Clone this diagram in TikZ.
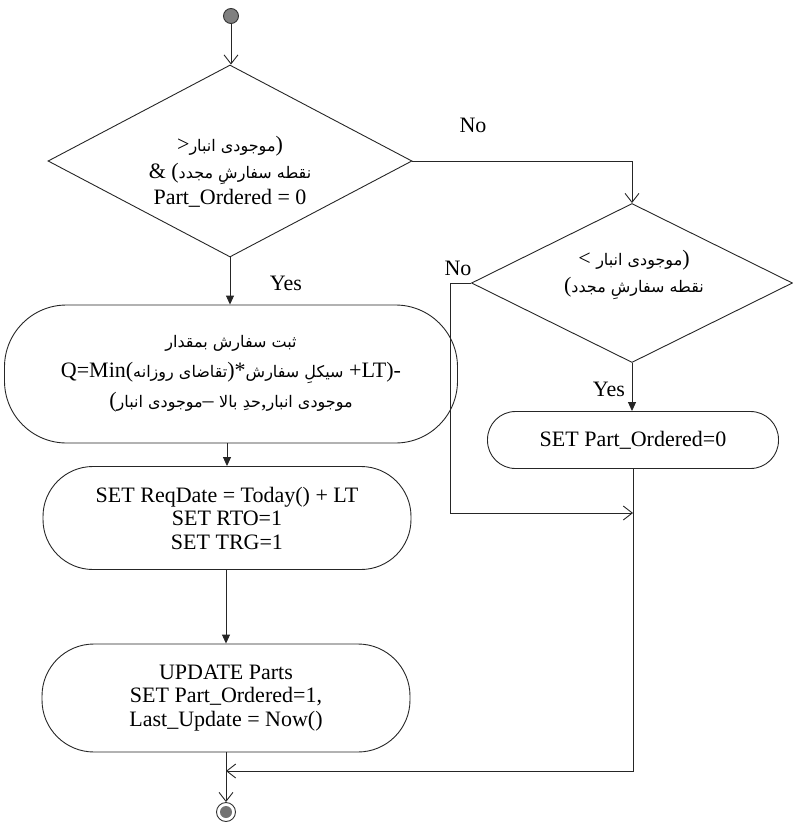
\documentclass[tikz,border=0pt]{standalone}
\usepackage{fontspec}
\setmainfont{Liberation Serif}
\newfontfamily\fa[Script=Arabic]{DejaVu Sans}
\TeXXeTstate=1
\usetikzlibrary{arrows.meta,shapes.geometric}
\newcommand\FA[1]{\mbox{\fa\fontsize{16}{19}\selectfont\beginR #1\endR}}
\newcommand\LT[1]{\mbox{#1}}
\tikzset{
  flow/.style={line width=0.9pt, draw=black!85},
  openarr/.style={-{Straight Barb[length=9pt,width=14pt,line width=0.9pt]}},
  fillarr/.style={-{Triangle[length=9pt,width=8pt]}},
  dec/.style={diamond, draw=black!85, line width=0.9pt, inner sep=0pt},
  act/.style={rectangle, draw=black!85, line width=0.9pt, inner sep=0pt, align=center,
    font=\fontsize{22}{23.5}\selectfont},
  txt/.style={inner sep=0pt, align=center, font=\fontsize{22}{26.5}\selectfont},
  lbl/.style={inner sep=0pt, font=\fontsize{22}{24}\selectfont},
  startc/.style={circle, draw=black!80, fill=black!50, line width=0.9pt, minimum size=15pt, inner sep=0pt},
  endo/.style={circle, draw=black!80, line width=0.9pt, minimum size=19pt, inner sep=0pt},
  endi/.style={circle, fill=black!55, minimum size=12pt, inner sep=0pt}
}
\begin{document}
\begin{tikzpicture}[x=1pt,y=-1pt]
\useasboundingbox (0,0) rectangle (793,828);
% start
\node[startc] (s) at (231,16) {};
% decision 1
\node[dec, minimum width=364pt, minimum height=192pt] (d1) at (230,161) {};
\node[txt] (t1) at (230,172) {\LT{>}\FA{موجودی انبار}\LT{)}\\ \LT{\&\ (}\FA{نقطه سفارشِ مجدد}\\ Part\_Ordered = 0};
% decision 2
\node[dec, minimum width=321pt, minimum height=159pt] (d2) at (632,283) {};
\node[txt] (t2) at (634,275) {\LT{<\ }\FA{موجودی انبار}\LT{)}\\ \LT{(}\FA{نقطه سفارشِ مجدد}};
% box 1
\node[act, minimum width=453pt, minimum height=138pt, rounded corners=62pt,
  font=\fontsize{22}{30}\selectfont] (b1) at (231,374)
  {\FA{ثبت سفارش بمقدار}\\
   \LT{Q=Min(}\FA{تقاضای روزانه}\LT{)*}\FA{سیکلِ سفارش}\LT{\ +LT)-}\\
   \LT{(}\FA{موجودی انبار}\LT{–\ }\FA{حدِ بالا}\LT{,}\FA{موجودی انبار}};
% box 2
\node[act, minimum width=368pt, minimum height=103pt, rounded corners=50pt] (b2) at (227,518)
  {SET ReqDate = Today() + LT\\ SET RTO=1\\ SET TRG=1};
% box 3
\node[act, minimum width=368pt, minimum height=108pt, rounded corners=52pt] (b3) at (226,698)
  {UPDATE Parts\\ SET Part\_Ordered=1,\\ Last\_Update = Now()};
% box 4
\node[act, minimum width=291pt, minimum height=57pt, rounded corners=28pt] (b4) at (633,440)
  {SET Part\_Ordered=0};
% end
\node[endo] (e) at (226,812) {};
\node[endi] (ei) at (e.center) {};
% labels
\node[lbl] (no1) at (473,125) {No};
\node[lbl] (no2) at (458,268) {No};
\node[lbl] (y1) at (286,283) {Yes};
\node[lbl] (y2) at (609,389) {Yes};
% connectors
\draw[flow,openarr] (s) -- (s |- d1.north);
\draw[flow,fillarr] (d1.south) -- (d1.south |- b1.north);
\draw[flow,fillarr] (b2.north |- b1.south) -- (b2.north);
\draw[flow,fillarr] (b3.north |- b2.south) -- (b3.north);
\draw[flow,openarr] (b3.south) -- (e.north);
\draw[flow,openarr] (d1.east) -| (d2.north);
\draw[flow,fillarr] (d2.south) -- (d2.south |- b4.north);
\coordinate (nl) at (450,513);
\draw[flow,openarr] (d2.west) -| (nl) -- (nl -| b4.south);
\coordinate (rl) at (226,771);
\draw[flow,openarr] (b4.south) |- (rl);
\end{tikzpicture}
\end{document}
